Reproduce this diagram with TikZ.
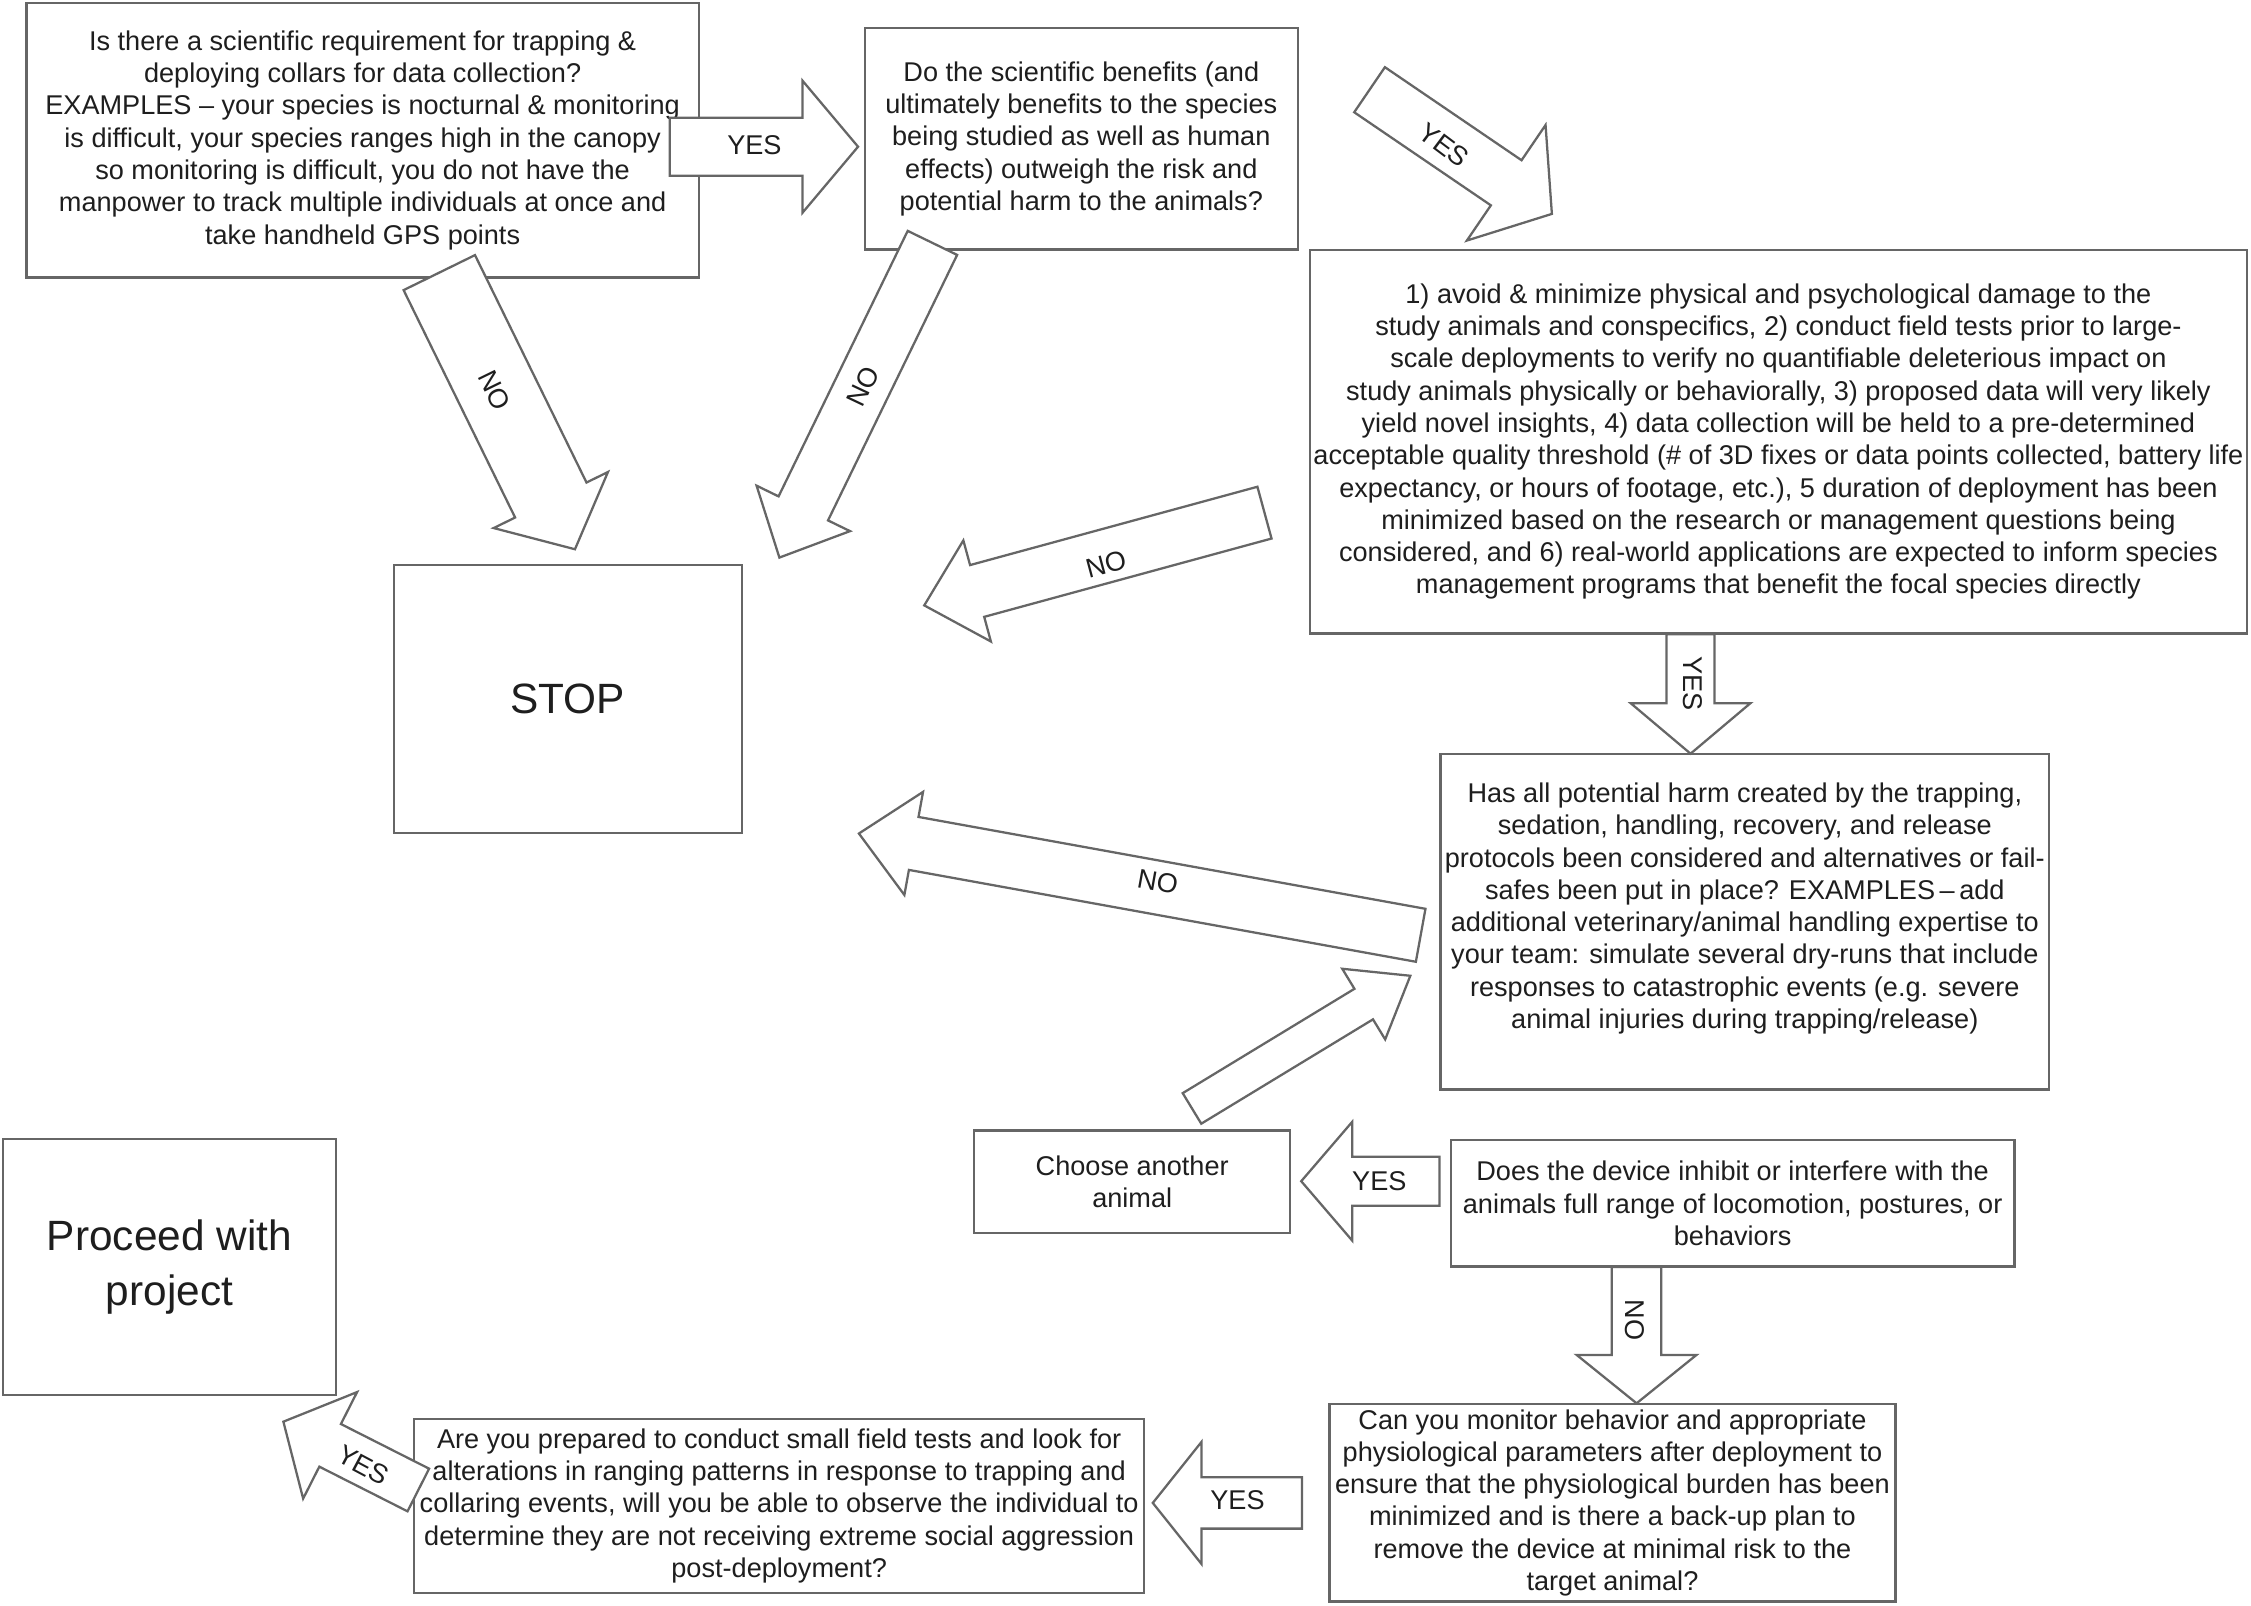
\documentclass[tikz,border=0pt]{standalone}
\usepackage{fontspec}
\setmainfont{Liberation Sans}
\usepackage{tikz}
\usetikzlibrary{calc}

\definecolor{linegray}{HTML}{666666}
\definecolor{textgray}{HTML}{1E1E1E}

% block arrow: tail, tip, shaft half width, head half width, head length (cm)
\newcommand{\fatarrow}[5]{%
  \coordinate (fa-base) at ($(#2)!#5cm!(#1)$);
  \draw[bigarrow] ($(#1)!#3cm!90:(#2)$) -- ($(fa-base)!#3cm!90:(#2)$)
    -- ($(fa-base)!#4cm!90:(#2)$) -- (#2) -- ($(fa-base)!#4cm!-90:(#2)$)
    -- ($(fa-base)!#3cm!-90:(#2)$) -- ($(#1)!#3cm!-90:(#2)$) -- cycle;
}

\begin{document}
\begin{tikzpicture}[x=0.02cm, y=-0.02cm,
    every node/.style={font=\fontsize{10.75}{12.8}\selectfont, text=textgray},
    box/.style={draw=linegray, line width=0.9pt, fill=white, align=center, inner sep=1pt},
    bigbox/.style={box, font=\fontsize{16.8}{21.7}\selectfont},
    bigarrow/.style={draw=linegray, line width=0.9pt, fill=white, line join=miter},
    lbl/.style={inner sep=0pt}]
  \useasboundingbox (0,0) rectangle (1568,1118.6);

  % Fragen (Boxen)
  \node[box, minimum width=9.364cm, minimum height=3.828cm] (require) at (252.6,97.7)
    {Is there a scientific requirement for trapping \&\\
     deploying collars for data collection?\\
     EXAMPLES – your species is nocturnal \& monitoring\\
     is difficult, your species ranges high in the canopy\\
     so monitoring is difficult, you do not have the\\
     manpower to track multiple individuals at once and\\
     take handheld GPS points};
  \node[box, minimum width=6.036cm, minimum height=3.086cm] (benefit) at (753.2,96.65)
    {Do the scientific benefits (and\\
     ultimately benefits to the species\\
     being studied as well as human\\
     effects) outweigh the risk and\\
     potential harm to the animals?};
  \node[box, minimum width=13.06cm, minimum height=5.346cm] (criteria) at (1238.8,307.65)
    {1) avoid \& minimize physical and psychological damage to the\\
     study animals and conspecifics, 2) conduct field tests prior to large-\\
     scale deployments to verify no quantifiable deleterious impact on\\
     study animals physically or behaviorally, 3) proposed data will very likely\\
     yield novel insights, 4) data collection will be held to a pre-determined\\
     acceptable quality threshold (\# of 3D fixes or data points collected, battery life\\
     expectancy, or hours of footage, etc.), 5 duration of deployment has been\\
     minimized based on the research or management questions being\\
     considered, and 6) real-world applications are expected to inform species\\
     management programs that benefit the focal species directly};
  \node[bigbox, minimum width=4.848cm, minimum height=3.73cm] (stop) at (395.5,487.05) {STOP};
  \node[box, minimum width=8.48cm, minimum height=4.67cm] (harm) at (1215.4,642.15)
    {Has all potential harm created by the trapping,\\
     sedation, handling, recovery, and release\\
     protocols been considered and alternatives or fail-\\
     safes been put in place? EXAMPLES\,–\,add\\
     additional veterinary/animal handling expertise to\\
     your team: simulate several dry-runs that include\\
     responses to catastrophic events (e.g. severe\\
     animal injuries during trapping/release)\\ \mbox{}};
  \node[box, minimum width=4.406cm, minimum height=1.432cm] (another) at (788.65,823.3)
    {Choose another\\ animal};
  \node[box, minimum width=7.856cm, minimum height=1.76cm] (device) at (1206.9,838.3)
    {Does the device inhibit or interfere with the\\
     animals full range of locomotion, postures, or\\
     behaviors};
  \node[box, minimum width=7.888cm, minimum height=2.75cm] (monitor) at (1123.2,1046.75)
    {Can you monitor behavior and appropriate\\
     physiological parameters after deployment to\\
     ensure that the physiological burden has been\\
     minimized and is there a back-up plan to\\
     remove the device at minimal risk to the\\
     target animal?};
  \node[bigbox, minimum width=4.644cm, minimum height=3.564cm] (proceed) at (118,882.6)
    {Proceed with\\ project};
  \node[box, minimum width=10.17cm, minimum height=2.42cm] (fieldtest) at (542.75,1048.9)
    {Are you prepared to conduct small field tests and look for\\
     alterations in ranging patterns in response to trapping and\\
     collaring events, will you be able to observe the individual to\\
     determine they are not receiving extreme social aggression\\
     post-deployment?};

  % Pfeil-Enden
  \coordinate (yes1-s) at (466.6,102.2);  \coordinate (yes1-e) at (597.7,102.2);
  \coordinate (yes2-s) at (954,62.5);     \coordinate (yes2-e) at (1081,149);
  \coordinate (no1-s) at (306,189.9);     \coordinate (no1-e) at (400.5,382.6);
  \coordinate (no2-s) at (649.5,169.2);   \coordinate (no2-e) at (542.9,388.4);
  \coordinate (no3-s) at (880.8,357.1);   \coordinate (no3-e) at (643.8,421.7);
  \coordinate (yes3-s) at (1177.6,441.8); \coordinate (yes3-e) at (1177.6,525);
  \coordinate (no4-s) at (989.6,651.5);   \coordinate (no4-e) at (598.3,580.6);
  \coordinate (back-s) at (830.3,772.1);  \coordinate (back-e) at (982.4,679.7);
  \coordinate (yes4-s) at (1002.7,822.8); \coordinate (yes4-e) at (906.4,822.8);
  \coordinate (no5-s) at (1140,882.5);    \coordinate (no5-e) at (1140,977.5);
  \coordinate (yes5-s) at (907,1046.9);   \coordinate (yes5-e) at (803,1046.9);
  \coordinate (yes6-s) at (291.4,1037.9); \coordinate (yes6-e) at (197.4,990.3);

  % Pfeile
  \fatarrow{yes1-s}{yes1-e}{0.405}{0.92}{0.774}
  \fatarrow{yes2-s}{yes2-e}{0.38}{0.974}{0.77}
  \fatarrow{no1-s}{no1-e}{0.554}{0.887}{0.764}
  \fatarrow{no2-s}{no2-e}{0.383}{0.724}{0.762}
  \fatarrow{no3-s}{no3-e}{0.374}{0.73}{0.764}
  \fatarrow{yes3-s}{yes3-e}{0.335}{0.835}{0.704}
  \fatarrow{no4-s}{no4-e}{0.375}{0.73}{0.776}
  \fatarrow{back-s}{back-e}{0.249}{0.576}{0.76}
  \fatarrow{yes4-s}{yes4-e}{0.342}{0.827}{0.71}
  \fatarrow{no5-s}{no5-e}{0.345}{0.835}{0.674}
  \fatarrow{yes5-s}{yes5-e}{0.358}{0.852}{0.68}
  \fatarrow{yes6-s}{yes6-e}{0.333}{0.832}{0.73}

  % Beschriftungen
  \node[lbl] (yes1) at (525.5,101.3) {YES};
  \node[lbl, rotate=-37] (yes2) at (1006,101) {YES};
  \node[lbl, rotate=-64] (no1) at (344.6,271.9) {NO};
  \node[lbl, rotate=64.6] (no2) at (601.3,269.1) {NO};
  \node[lbl, rotate=15] (no3) at (770.4,393) {NO};
  \node[lbl, rotate=-90] (yes3) at (1179.3,476.3) {YES};
  \node[lbl, rotate=-10.3] (no4) at (806.5,614.3) {NO};
  \node[lbl] (yes4) at (960.8,822.8) {YES};
  \node[lbl, rotate=-90] (no5) at (1138.5,919.5) {NO};
  \node[lbl] (yes5) at (862,1045) {YES};
  \node[lbl, rotate=-28] (yes6) at (253.1,1020.5) {YES};
\end{tikzpicture}
\end{document}
